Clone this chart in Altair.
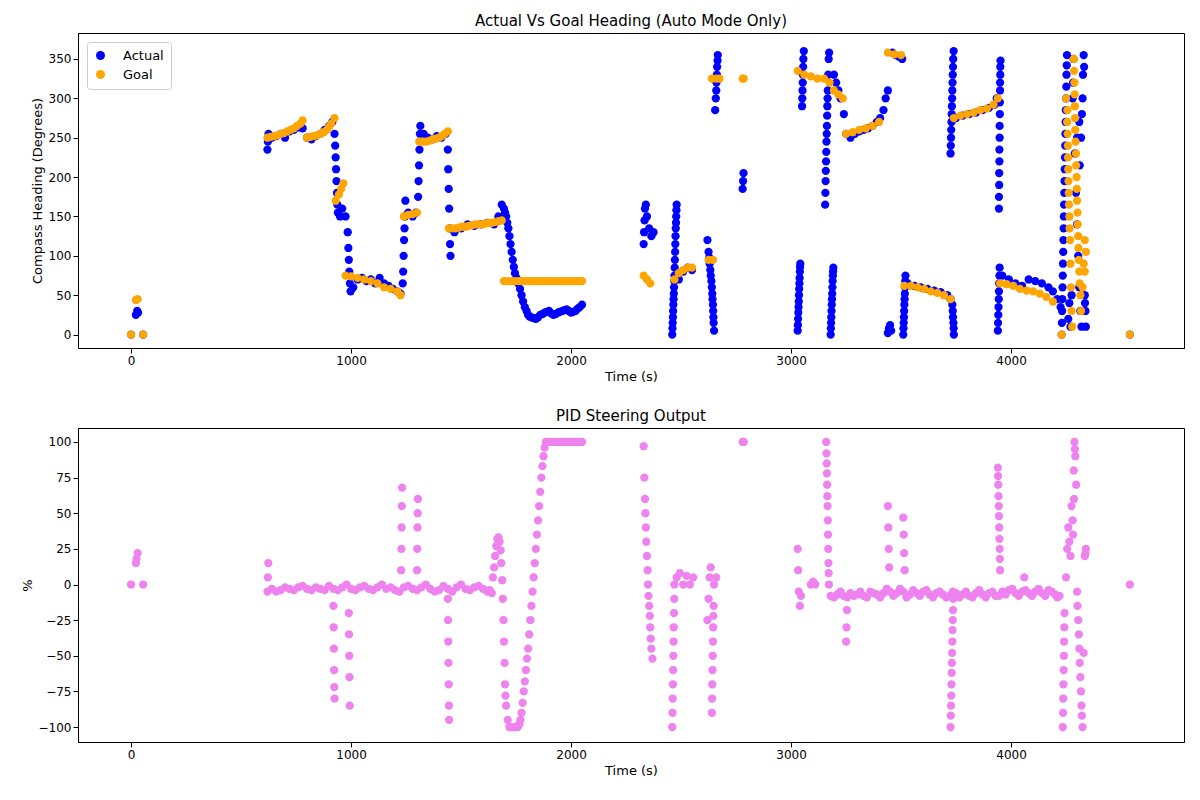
import pandas as pd
import altair as alt

# Actual compass heading (time s, degrees)
actual_pts = [
    (0, 0), (22, 25), (28, 30), (32, 28), (55, 0),
    (620, 235), (622, 245), (625, 255), (640, 250), (660, 252), (680, 255), (700, 250), (720, 258), (740, 260),
    (760, 263), (780, 262), (800, 250), (820, 248), (840, 252), (860, 255), (880, 260), (900, 265), (915, 270),
    (925, 255), (928, 240), (930, 225), (932, 210), (934, 195), (936, 180), (938, 165), (940, 155), (950, 150),
    (960, 160), (975, 150), (985, 130), (988, 110), (990, 95), (992, 80), (995, 65), (998, 55), (1010, 60),
    (1030, 70), (1050, 72), (1070, 68), (1090, 70), (1110, 65), (1130, 72), (1150, 65), (1170, 62), (1190, 58),
    (1210, 55), (1225, 52), (1235, 65), (1237, 80), (1239, 100), (1241, 120), (1243, 135), (1245, 150),
    (1247, 170), (1260, 155), (1280, 150), (1295, 155), (1305, 175), (1307, 195), (1309, 215), (1311, 235),
    (1313, 255), (1315, 265), (1330, 255), (1350, 250), (1370, 248), (1390, 252), (1410, 250), (1430, 255),
    (1440, 235), (1442, 210), (1444, 185), (1446, 160), (1448, 135), (1450, 115), (1452, 100), (1470, 130),
    (1500, 135), (1530, 140), (1560, 138), (1590, 140), (1620, 142), (1650, 140), (1670, 150), (1685, 165),
    (1695, 160), (1705, 150), (1715, 135), (1725, 115), (1735, 95), (1745, 78), (1760, 65), (1775, 50),
    (1790, 35), (1805, 25), (1820, 22), (1840, 20), (1860, 25), (1880, 28), (1900, 30), (1920, 25), (1940, 28),
    (1960, 30), (1980, 32), (2000, 28), (2020, 30), (2040, 35), (2050, 38),
    (1700, 155), (1710, 142), (1720, 125), (1730, 105), (1740, 86), (1752, 72), (1768, 58), (1782, 42),
    (1798, 30), (1812, 23), (1830, 21), (1850, 22), (1870, 26), (1890, 29), (1910, 27), (1930, 26), (1950, 29),
    (1970, 31), (1990, 30), (2010, 29), (2030, 33),
    (2330, 115), (2332, 130), (2334, 145), (2336, 160), (2340, 165), (2345, 150), (2355, 135), (2365, 125),
    (2375, 130),
    (2460, 0), (2462, 15), (2464, 30), (2466, 45), (2468, 60), (2470, 75), (2472, 95), (2474, 115), (2476, 135),
    (2478, 150), (2480, 165), (2490, 70), (2510, 80), (2530, 85), (2550, 82),
    (2461, 8), (2463, 22), (2465, 38), (2467, 52), (2469, 68), (2471, 85), (2473, 105), (2475, 125),
    (2477, 142), (2479, 158),
    (2620, 120), (2625, 105), (2630, 90), (2635, 75), (2640, 60), (2643, 45), (2646, 30), (2648, 15), (2650, 5),
    (2628, 98), (2633, 82), (2638, 68), (2642, 52), (2645, 38), (2647, 22),
    (2655, 285), (2658, 300), (2661, 320), (2664, 340), (2667, 355), (2660, 310), (2663, 330), (2666, 348),
    (2780, 185), (2782, 195), (2784, 205),
    (3030, 5), (3032, 20), (3034, 35), (3036, 50), (3038, 65), (3040, 80), (3042, 90), (3050, 290), (3052, 310),
    (3031, 12), (3033, 28), (3035, 42), (3037, 58), (3039, 72), (3041, 86), (3051, 300), (3053, 320), (3055, 340),
    (3054, 330), (3056, 350), (3058, 360),
    (3155, 165), (3157, 195), (3159, 220), (3161, 245), (3163, 265), (3165, 290), (3167, 310), (3169, 330),
    (3171, 350), (3173, 358), (3156, 180), (3158, 208), (3160, 232), (3162, 255), (3164, 278), (3166, 300),
    (3180, 0), (3182, 15), (3184, 30), (3186, 45), (3188, 60), (3190, 75), (3192, 85),
    (3181, 8), (3183, 22), (3185, 38), (3187, 52), (3189, 68), (3191, 80),
    (3195, 330), (3205, 320), (3215, 310), (3225, 300), (3240, 280), (3250, 255), (3270, 250), (3290, 255),
    (3310, 258), (3330, 260), (3350, 262), (3370, 265), (3390, 270), (3405, 275), (3420, 285), (3430, 300),
    (3440, 310),
    (3440, 2), (3445, 8), (3450, 12), (3455, 5), (3460, 358), (3475, 355), (3490, 353), (3505, 350),
    (3510, 0), (3512, 15), (3514, 30), (3516, 45), (3518, 60), (3520, 75), (3530, 65), (3560, 62), (3590, 60),
    (3511, 8), (3513, 22), (3515, 38), (3517, 52), (3519, 68),
    (3620, 58), (3650, 56), (3680, 54), (3710, 50), (3725, 45), (3735, 30), (3738, 15), (3740, 0),
    (3736, 22), (3739, 8), (3733, 38),
    (3725, 230), (3727, 250), (3729, 270), (3731, 290), (3733, 310), (3735, 330), (3737, 350), (3739, 360),
    (3726, 240), (3728, 260), (3730, 280), (3732, 300), (3734, 320), (3736, 340),
    (3750, 275), (3780, 278), (3810, 280), (3840, 282), (3870, 285), (3900, 288), (3925, 292), (3935, 300),
    (3945, 160), (3946, 190), (3947, 220), (3948, 250), (3949, 280), (3950, 310), (3951, 330), (3952, 348),
    (3945, 175), (3946, 205), (3947, 235), (3948, 265), (3949, 295), (3950, 320), (3951, 340),
    (3940, 5), (3942, 25), (3944, 45), (3946, 65), (3948, 85), (3960, 75), (3990, 70), (4020, 65), (4050, 62),
    (3941, 15), (3943, 35), (3945, 55), (3947, 75),
    (4080, 70), (4110, 68), (4140, 65), (4170, 60), (4190, 55), (4210, 45), (4225, 35),
    (4230, 0), (4232, 30), (4234, 60), (4236, 90), (4238, 120), (4240, 150), (4242, 180), (4244, 210),
    (4246, 240), (4248, 270), (4250, 300), (4252, 330), (4254, 355), (4260, 20), (4265, 40), (4270, 10),
    (4231, 15), (4233, 45), (4235, 75), (4237, 105), (4239, 135), (4241, 165), (4243, 195), (4245, 225),
    (4247, 255), (4249, 285), (4251, 315), (4253, 342),
    (4275, 50), (4280, 300), (4282, 320), (4284, 350), (4290, 230), (4295, 180), (4300, 140), (4305, 100),
    (4310, 60), (4315, 30), (4320, 10), (4325, 300), (4327, 330), (4330, 355), (4335, 50), (4338, 30),
    (4340, 10), (4300, 250), (4310, 270), (4322, 280), (4318, 250), (4312, 215), (4332, 340), (4336, 40),
    (4540, 0),
]

# Goal heading (time s, degrees)
goal_pts = [
    (0, 0), (22, 44), (30, 45), (55, 0),
    (620, 250), (650, 252), (680, 255), (710, 258), (740, 262), (770, 268), (780, 272), (800, 250), (830, 252),
    (635, 251), (665, 253), (695, 256), (725, 260), (755, 265), (815, 251), (845, 253), (875, 257), (900, 264),
    (860, 255), (890, 260), (910, 268), (925, 275), (930, 170), (945, 178), (955, 185), (965, 192), (975, 75),
    (1000, 74), (1030, 72), (1060, 70), (1090, 68), (1120, 65), (1150, 60), (1180, 58), (1210, 55), (1225, 50),
    (1240, 150), (1260, 152), (1280, 153), (1300, 155), (1310, 245), (1340, 245), (1370, 248), (1400, 250),
    (1425, 255), (1440, 258), (1445, 135), (1475, 135), (1505, 137), (1535, 138), (1565, 140), (1595, 140),
    (1625, 142), (1655, 143), (1685, 145), (1695, 68), (1730, 68), (1760, 68), (1790, 68), (1820, 68),
    (1850, 68), (1880, 68), (1910, 68), (1940, 68), (1970, 68), (2000, 68), (2030, 68), (2050, 68),
    (1712, 68), (1745, 68), (1775, 68), (1805, 68), (1835, 68), (1865, 68), (1895, 68), (1925, 68), (1955, 68),
    (1985, 68), (2015, 68), (2040, 68), (1460, 135), (1490, 136), (1520, 137), (1550, 139), (1580, 140),
    (1610, 141), (1640, 142), (1670, 144), (1325, 245), (1355, 246), (1385, 249), (1412, 252),
    (2330, 75), (2345, 70), (2360, 65), (2470, 70), (2490, 78), (2510, 82), (2530, 85), (2550, 85),
    (2625, 95), (2645, 95), (2640, 325), (2660, 325), (2675, 325), (2780, 325), (2785, 325),
    (3030, 335), (3060, 330), (3090, 328), (3120, 325), (3150, 325), (3175, 320), (3195, 310), (3215, 305),
    (3235, 300), (3250, 255), (3280, 257), (3310, 260), (3340, 262), (3370, 265), (3400, 270), (3440, 358),
    (3470, 356), (3500, 355), (3515, 62), (3545, 62), (3575, 60), (3605, 58), (3635, 55), (3665, 53),
    (3695, 50), (3725, 45), (3740, 275), (3770, 278), (3800, 280), (3830, 282), (3860, 285), (3890, 287),
    (3920, 292), (3940, 300), (3950, 65), (3980, 64), (4010, 62), (4040, 58), (4070, 56), (4100, 55),
    (4130, 52), (4160, 48), (4190, 42), (4230, 0),
    (4250, 300), (4255, 270), (4258, 240), (4260, 210), (4262, 180), (4265, 150), (4268, 120), (4270, 90),
    (4272, 60), (4275, 30), (4278, 10), (4285, 350), (4288, 320), (4290, 290), (4292, 260), (4295, 230),
    (4298, 200), (4300, 170), (4303, 140), (4306, 110), (4310, 80), (4315, 50), (4318, 30), (4325, 60),
    (4330, 90), (4335, 120), (4340, 105), (4335, 80),
    (4286, 335), (4289, 305), (4291, 275), (4293, 245), (4296, 215), (4299, 185), (4302, 155), (4305, 125),
    (4308, 95), (4312, 65), (4256, 285), (4257, 255), (4259, 225), (4261, 195), (4263, 165), (4266, 135),
    (4540, 0),
]

# PID steering output (time s, %)
pid_pts = [
    (0, 0), (22, 15), (25, 18), (30, 22), (55, 0),
    (620, -5), (622, 5), (624, 15), (640, -3), (680, -4), (720, -3), (760, -2), (800, -3), (840, -2), (880, -4),
    (920, -3), (960, -2), (1000, -3), (1040, -2), (1080, -3), (1120, -2), (1160, -3), (1200, -4), (1240, -2),
    (1280, -3), (1320, -2), (1360, -3), (1400, -4), (1440, -3), (1480, -2), (1520, -3), (1560, -2), (1600, -3),
    (1630, -4),
    (660, -5), (700, -2), (740, -4), (780, -1), (820, -4), (860, -3), (900, -1), (940, -4), (980, 0), (1020, -4),
    (1060, -1), (1100, -4), (1140, 0), (1180, -2), (1220, -5), (1260, -1), (1300, -4), (1340, 0), (1380, -5),
    (1420, -1), (1460, -5), (1500, 0), (1540, -4), (1580, -1), (1620, -5), (1640, -6),
    (920, -15), (921, -30), (922, -45), (923, -60), (924, -72), (925, -80), (990, -20), (991, -35), (992, -50),
    (993, -65), (994, -85), (1228, 10), (1229, 25), (1230, 40), (1231, 55), (1232, 68), (1300, 10), (1301, 25),
    (1302, 40), (1303, 50), (1304, 60), (1440, -10), (1441, -25), (1442, -40), (1443, -55), (1444, -70),
    (1445, -85), (1446, -95),
    (1645, 5), (1655, 20), (1665, 32), (1675, 30), (1683, 15), (1690, -10), (1695, -40), (1700, -70),
    (1650, 12), (1660, 27), (1670, 33), (1680, 24), (1687, 3), (1693, -25), (1698, -55), (1702, -78),
    (1705, -85), (1712, -95), (1720, -100), (1735, -100), (1750, -100), (1765, -98), (1775, -90), (1785, -75),
    (1728, -100), (1742, -100), (1758, -100), (1770, -95), (1780, -83), (1790, -68), (1800, -52), (1810, -35),
    (1820, -15), (1830, 5), (1840, 25), (1850, 45), (1860, 65), (1870, 83), (1880, 96), (1890, 100),
    (1910, 100), (1930, 100), (1950, 100), (1970, 100), (1990, 100), (2010, 100), (2030, 100),
    (1795, -60), (1805, -45), (1815, -25), (1825, -5), (1835, 15), (1845, 35), (1855, 55), (1865, 75),
    (1875, 90), (1885, 100), (1900, 100), (1920, 100), (1940, 100), (1960, 100), (1980, 100), (2000, 100),
    (2020, 100), (2040, 100), (2050, 100),
    (2330, 97), (2333, 75), (2336, 60), (2340, 40), (2345, 20), (2350, 0), (2355, -15), (2360, -30),
    (2365, -45), (2370, -52), (2338, 50), (2342, 30), (2348, 10), (2352, -8), (2358, -22), (2362, -38),
    (2460, -100), (2462, -80), (2464, -60), (2466, -40), (2468, -20), (2470, 0), (2480, 5), (2495, 8),
    (2461, -90), (2463, -70), (2465, -50), (2467, -30), (2469, -10),
    (2510, 0), (2525, 6), (2540, 0), (2555, 5),
    (2620, -25), (2625, -10), (2630, 5), (2635, 12), (2640, -90), (2642, -70), (2644, -50), (2646, -30),
    (2641, -80), (2643, -60), (2645, -40), (2647, -22),
    (2648, -15), (2650, 0), (2660, 5),
    (2780, 100), (2785, 100),
    (3030, 25), (3032, 10), (3035, -5), (3040, -15), (3045, -8), (3090, 0), (3100, 2), (3110, 0),
    (3160, 100), (3162, 85), (3164, 70), (3166, 55), (3168, 35), (3170, 15), (3172, 0), (3180, -8),
    (3161, 92), (3163, 78), (3165, 62), (3167, 45), (3169, 25), (3171, 8),
    (3210, -7), (3240, -8), (3270, -6), (3300, -7), (3330, -8), (3360, -5), (3390, -7), (3420, -6), (3450, -5),
    (3480, -6), (3510, -5), (3540, -7), (3570, -6), (3600, -5), (3630, -7), (3660, -6), (3690, -7), (3720, -8),
    (3750, -6), (3780, -7), (3810, -8), (3840, -6), (3870, -7), (3900, -6), (3930, -8), (3960, -5), (3990, -4),
    (4020, -6), (4050, -5), (4060, 5), (4080, -6), (4110, -5), (4140, -6), (4170, -4), (4200, -7), (4220, -8),
    (3195, -9), (3225, -5), (3255, -9), (3285, -8), (3315, -5), (3345, -9), (3375, -6), (3405, -9), (3435, -3),
    (3465, -8), (3495, -3), (3525, -9), (3555, -4), (3585, -8), (3615, -4), (3645, -9), (3675, -5), (3705, -9),
    (3735, -5), (3765, -9), (3795, -5), (3825, -9), (3855, -4), (3885, -9), (3915, -5), (3945, -8), (3975, -7),
    (4005, -3), (4035, -8), (4065, -4), (4095, -8), (4125, -3), (4155, -8), (4185, -5), (4210, -9),
    (3250, -40), (3252, -30), (3254, -18), (3440, 55), (3442, 40), (3444, 25), (3446, 12), (3510, 47),
    (3512, 35), (3514, 22), (3516, 10), (3725, -100), (3727, -85), (3729, -70), (3731, -55), (3733, -40),
    (3735, -25), (3737, -10), (3940, 82), (3942, 70), (3944, 55), (3946, 40), (3948, 25), (3950, 10),
    (3726, -92), (3728, -78), (3730, -62), (3732, -48), (3734, -32), (3736, -18), (3941, 76), (3943, 62),
    (3945, 48), (3947, 32), (3949, 18),
    (4235, -100), (4237, -80), (4239, -60), (4241, -40), (4243, -20), (4250, 5), (4255, 25), (4260, 40),
    (4236, -90), (4238, -70), (4240, -50), (4242, -30),
    (4265, 30), (4270, 20), (4275, 55), (4280, 45), (4285, 80), (4288, 100), (4292, 90), (4296, 70),
    (4300, -5), (4305, -25), (4310, -45), (4315, -65), (4320, -85), (4325, -100), (4330, -48), (4335, 20),
    (4340, 25), (4290, 95), (4286, 60), (4282, 35), (4302, -15), (4308, -35), (4312, -55), (4318, -75),
    (4322, -92), (4338, 22),
    (4540, 0),
]

heading = pd.concat([
    pd.DataFrame(actual_pts, columns=['t', 'v']).assign(series='Actual'),
    pd.DataFrame(goal_pts, columns=['t', 'v']).assign(series='Goal'),
])
pid = pd.DataFrame(pid_pts, columns=['t', 'v'])

x_dom = [-241, 4786]
x_ticks = [0, 1000, 2000, 3000, 4000]

top = alt.Chart(heading).mark_circle(size=68, opacity=1).encode(
    x=alt.X('t:Q', title='Time (s)', scale=alt.Scale(domain=x_dom, nice=False),
            axis=alt.Axis(values=x_ticks, format='d')),
    y=alt.Y('v:Q', title='Compass Heading (Degrees)', scale=alt.Scale(domain=[-17, 383], nice=False),
            axis=alt.Axis(values=list(range(0, 351, 50)), format='d')),
    color=alt.Color('series:N', scale=alt.Scale(domain=['Actual', 'Goal'], range=['blue', 'orange']),
                    legend=alt.Legend(title=None, orient='top-left', offset=9, strokeColor='#cccccc',
                                      fillColor='white', padding=7, cornerRadius=3, symbolSize=80,
                                      labelFontSize=13, labelOffset=16, rowPadding=5,
                                      symbolType='circle')),
    order=alt.Order('series:N'),
).properties(width=1106, height=315, title='Actual Vs Goal Heading (Auto Mode Only)')

bottom = alt.Chart(pid).mark_circle(size=68, opacity=1, color='violet').encode(
    x=alt.X('t:Q', title='Time (s)', scale=alt.Scale(domain=x_dom, nice=False),
            axis=alt.Axis(values=x_ticks, format='d')),
    y=alt.Y('v:Q', title='%', scale=alt.Scale(domain=[-110.5, 109.8], nice=False),
            axis=alt.Axis(values=list(range(-100, 101, 25)), format='d')),
).properties(width=1106, height=314, title='PID Steering Output')

chart = alt.vconcat(top, bottom, spacing=24).resolve_scale(color='independent').properties(
    padding={'left': 12, 'top': 5, 'right': 5, 'bottom': 5}
).configure(
    font='DejaVu Sans'
).configure_axis(
    grid=False, labelFontSize=12, titleFontSize=13, titleFontWeight='normal',
    domainColor='black', tickColor='black', labelColor='black', titleColor='black',
).configure_title(fontSize=15, fontWeight='normal').configure_view(stroke='black')

chart.save("out.html", embed_options={"renderer": "svg", "actions": False})
